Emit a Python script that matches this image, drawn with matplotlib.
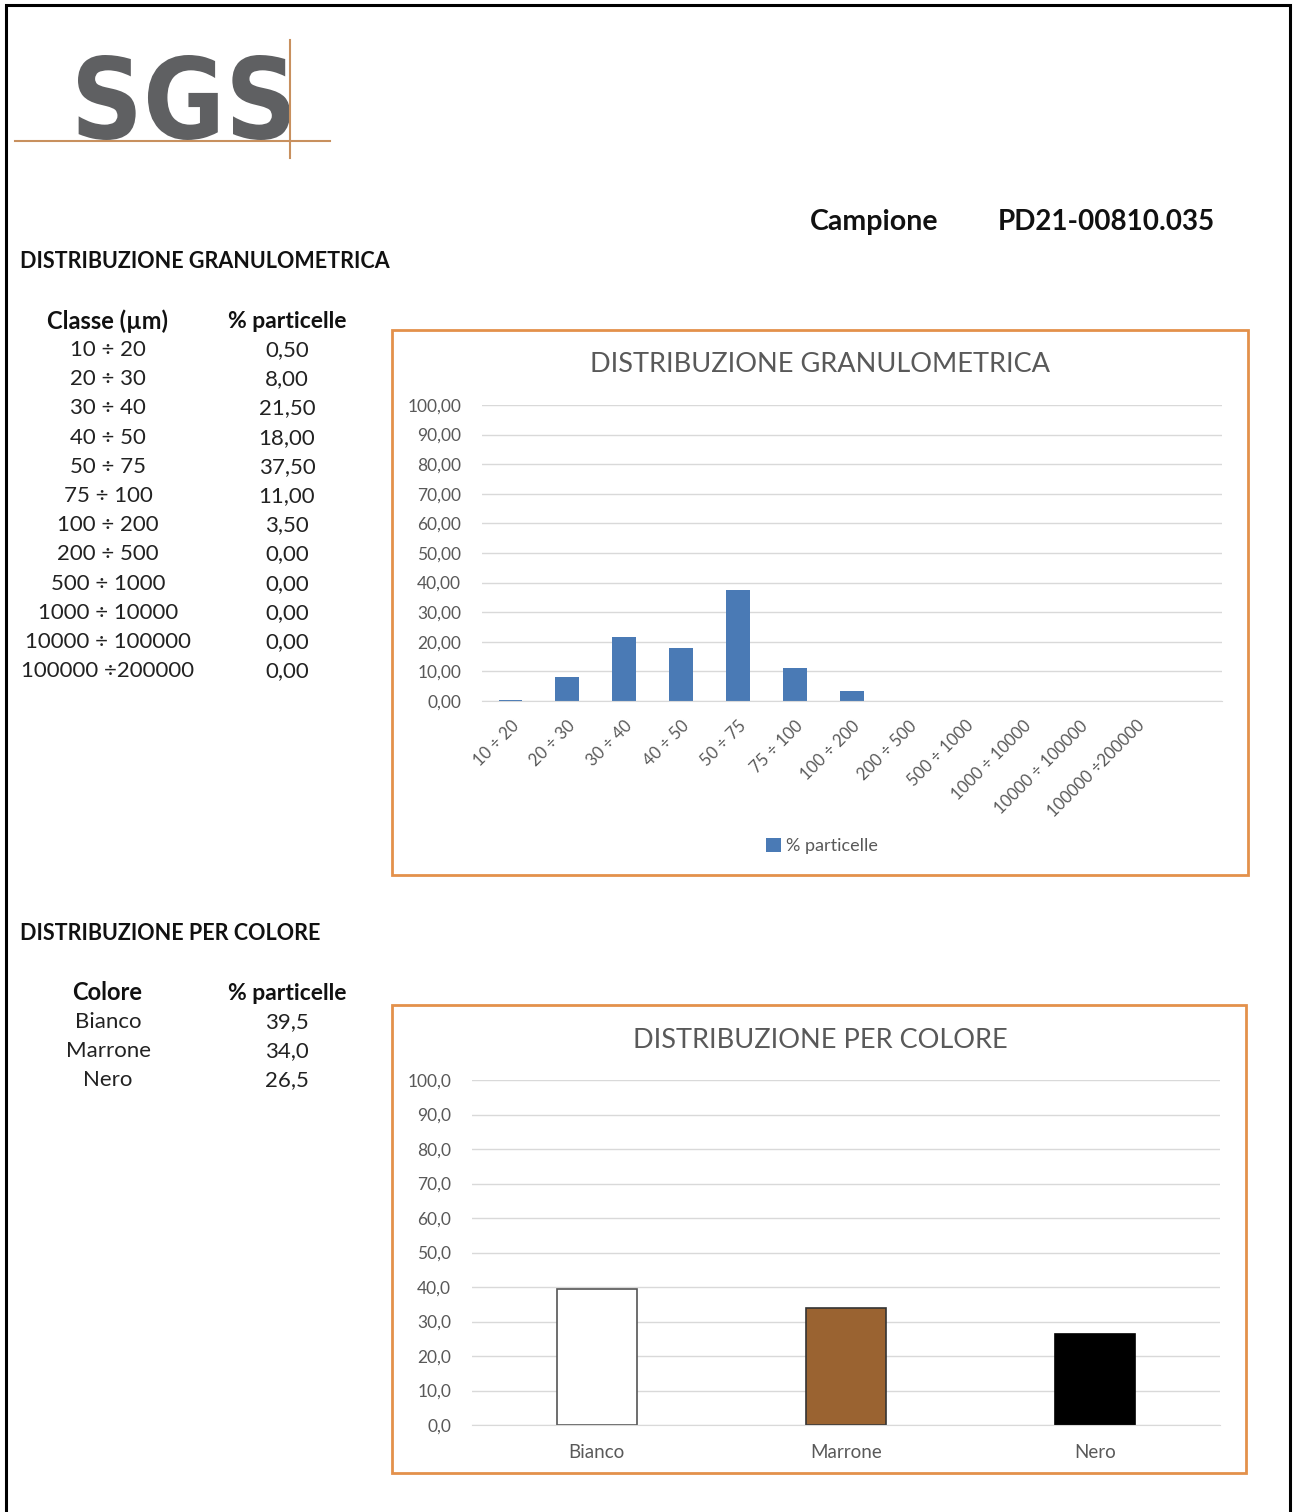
import matplotlib.pyplot as plt
from matplotlib.patches import Rectangle, PathPatch
from matplotlib.lines import Line2D
from matplotlib.textpath import TextPath
from matplotlib.font_manager import FontProperties
from matplotlib.transforms import Affine2D
from matplotlib.ticker import FuncFormatter

W, H = 1293, 1512
plt.rcParams['font.family'] = ['Lato', 'DejaVu Sans']

# dati
classi = ["10 ÷ 20", "20 ÷ 30", "30 ÷ 40", "40 ÷ 50", "50 ÷ 75", "75 ÷ 100",
          "100 ÷ 200", "200 ÷ 500", "500 ÷ 1000", "1000 ÷ 10000",
          "10000 ÷ 100000", "100000 ÷200000"]
perc_classi = [0.50, 8.00, 21.50, 18.00, 37.50, 11.00, 3.50, 0.00, 0.00, 0.00, 0.00, 0.00]
colori = ["Bianco", "Marrone", "Nero"]
perc_colori = [39.5, 34.0, 26.5]
campione = "PD21-00810.035"

fig = plt.figure(figsize=(W / 100, H / 100), dpi=100)


def fx(x):
    return x / W


def fy(y):
    return 1 - y / H


def box(x0, y0, x1, y1, **kw):
    fig.add_artist(Rectangle((fx(x0), fy(y1)), fx(x1) - fx(x0), fy(y0) - fy(y1),
                             transform=fig.transFigure, fill=False, **kw))


def txt(x, y, s, **kw):
    fig.text(fx(x), fy(y), s, va='center', **kw)


# cornice pagina
box(6, 5, 1290, 1530, edgecolor='black', linewidth=2.2)

# logo SGS (testo compresso in orizzontale)
tp = TextPath((0, 0), "SGS", size=100, prop=FontProperties(family='DejaVu Sans', weight='bold'))
bb = tp.get_extents()
lx0, lx1, ly0, ly1 = 78, 290, 55, 140
sx = (fx(lx1) - fx(lx0)) / bb.width
sy = (fy(ly0) - fy(ly1)) / bb.height
tr = Affine2D().translate(-bb.x0, -bb.y0).scale(sx, sy).translate(fx(lx0), fy(ly1))
fig.add_artist(PathPatch(tp, transform=tr + fig.transFigure, color='#5f6062', lw=0))
logo_c = '#c8905e'
fig.add_artist(Line2D([fx(15), fx(330)], [fy(141), fy(141)], color=logo_c, lw=1.5))
fig.add_artist(Line2D([fx(290), fx(290)], [fy(40), fy(158)], color=logo_c, lw=1.5))

# intestazione
txt(810, 222, "Campione", fontsize=20.5, fontweight='bold', color='#111111')
txt(998, 222, campione, fontsize=20, fontweight='bold', color='#111111')

# tabella granulometrica
txt(20, 262, "DISTRIBUZIONE GRANULOMETRICA", fontsize=15.5, fontweight='bold', color='#111111')
txt(107, 321, "Classe (µm)", fontsize=17, fontweight='bold', color='#111111', ha='center')
txt(287, 321, "% particelle", fontsize=16.5, fontweight='bold', color='#111111', ha='center')
for i, (c, v) in enumerate(zip(classi, perc_classi)):
    y = 350 + i * 29.2
    txt(108, y, c, fontsize=16, color='#222222', ha='center')
    txt(287, y, f"{v:.2f}".replace('.', ','), fontsize=16, color='#222222', ha='center')

# tabella colore
txt(20, 934, "DISTRIBUZIONE PER COLORE", fontsize=15.5, fontweight='bold', color='#111111')
txt(107, 993, "Colore", fontsize=17, fontweight='bold', color='#111111', ha='center')
txt(287, 993, "% particelle", fontsize=16.5, fontweight='bold', color='#111111', ha='center')
for i, (c, v) in enumerate(zip(colori, perc_colori)):
    y = 1022 + i * 29.2
    txt(108, y, c, fontsize=16, color='#222222', ha='center')
    txt(287, y, f"{v:.1f}".replace('.', ','), fontsize=16, color='#222222', ha='center')

orange = '#e3914b'
grid_c = '#d9d9d9'
tick_c = '#595959'


def style(ax, dec):
    ax.set_ylim(0, 100)
    ax.set_yticks(range(0, 101, 10))
    ax.yaxis.set_major_formatter(FuncFormatter(lambda v, p: f"{v:.{dec}f}".replace('.', ',')))
    ax.grid(axis='y', color=grid_c, linewidth=1)
    ax.set_axisbelow(True)
    for s in ['top', 'right', 'left']:
        ax.spines[s].set_visible(False)
    ax.spines['bottom'].set_color(grid_c)
    ax.tick_params(length=0, colors=tick_c, labelsize=12.5)
    ax.tick_params(axis='y', pad=15)


# grafico 1
box(392, 330, 1248, 875, edgecolor=orange, linewidth=2)
ax1 = fig.add_axes([fx(482), fy(701), fx(1222) - fx(482), fy(405) - fy(701)])
ax1.bar(range(len(classi)), perc_classi, width=0.42, color='#4a7ab5', label='% particelle')
ax1.set_xlim(-0.5, 12.5)
style(ax1, 2)
ax1.set_xticks(range(len(classi)))
ax1.set_xticklabels(classi, rotation=45, ha='right', rotation_mode='anchor', fontsize=12)
ax1.tick_params(axis='x', pad=12)
txt(820, 365, "DISTRIBUZIONE GRANULOMETRICA", fontsize=19.5, color='#595959', ha='center')
ax1.legend(loc='center', bbox_to_anchor=(fx(822), fy(846)), bbox_transform=fig.transFigure,
           frameon=False, fontsize=13, handlelength=0.8, handleheight=0.8, handletextpad=0.3,
           labelcolor=tick_c)

# grafico 2
box(392, 1005, 1246, 1473, edgecolor=orange, linewidth=2)
ax2 = fig.add_axes([fx(472), fy(1425), fx(1220) - fx(472), fy(1080) - fy(1425)])
ax2.bar(range(len(colori)), perc_colori, width=0.32,
        color=['white', '#9a6331', 'black'], edgecolor=['#555555', '#333333', 'black'], linewidth=1.2)
ax2.set_xlim(-0.5, 2.5)
style(ax2, 1)
ax2.set_xticks(range(len(colori)))
ax2.set_xticklabels(colori, fontsize=13.5)
ax2.tick_params(axis='x', pad=14)
txt(820, 1040, "DISTRIBUZIONE PER COLORE", fontsize=19.5, color='#595959', ha='center')

fig.savefig('out.png', dpi=100)
